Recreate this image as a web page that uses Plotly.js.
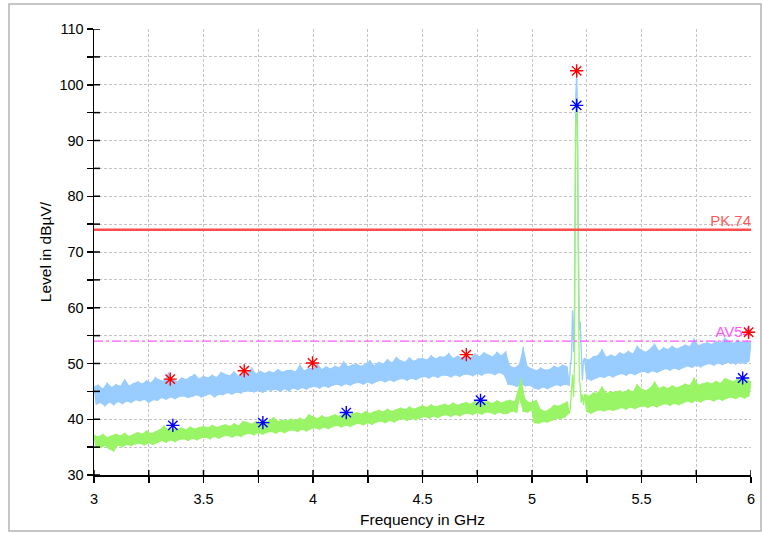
<!DOCTYPE html>
<html>
<head>
<meta charset="utf-8">
<script src="https://cdn.plot.ly/plotly-3.0.1.min.js"></script>
<style>html,body{margin:0;padding:0;background:#fff;}#chart{width:762px;height:534px;}</style>
</head>
<body>
<div id="chart"></div>
<script>
// ---- data ----
const lowStartGHz = 3.00;   // first block of samples, 0.01 GHz spacing
const highStartGHz = 5.24;  // block after the carrier, 0.01 GHz spacing
const sampleStepGHz = 0.01;

const peakTraceLow = [
45.9,42.6,46.2,42.9,45.5,42.3,46.6,43.0,45.8,42.5,
46.3,43.1,46.0,42.7,47.2,43.2,46.1,42.9,46.5,43.4,
46.8,43.2,46.4,43.5,47.0,42.9,46.6,43.4,47.6,43.3,
47.1,43.8,46.9,43.5,48.4,43.9,47.2,43.6,46.8,44.0,
47.5,44.1,47.2,43.8,47.7,44.0,48.1,44.3,47.3,43.9,
47.8,44.2,47.5,44.5,48.0,43.9,47.6,44.4,48.5,44.3,
48.1,44.7,47.9,44.4,48.6,44.8,47.8,44.6,48.2,45.0,
48.4,45.0,49.3,44.8,48.2,45.1,48.7,44.7,48.3,45.2,
48.7,45.1,48.4,45.3,49.0,44.9,48.5,45.4,48.8,45.0,
48.9,45.5,48.6,45.2,49.8,45.6,48.8,45.3,49.2,45.7,
49.2,45.8,50.1,45.5,49.0,45.9,49.5,45.6,49.1,46.0,
49.6,46.2,49.3,45.9,50.4,46.3,49.5,46.0,49.8,46.4,
49.9,46.5,49.6,46.2,50.0,46.6,50.6,46.3,49.7,46.7,
50.3,46.9,50.0,46.6,50.8,47.0,50.2,46.7,51.2,47.1,
50.6,47.2,50.3,46.9,51.1,47.3,50.5,47.0,50.9,47.4,
51.0,47.6,50.7,47.3,51.5,47.7,50.9,47.4,51.3,47.8,
51.2,47.8,51.9,47.5,51.0,47.9,51.4,47.6,51.1,48.0,
51.4,48.0,51.1,47.7,51.8,48.1,51.3,47.8,52.0,48.2,
51.6,48.2,51.3,47.9,52.1,48.3,51.5,48.0,52.2,46.2,
49.6,46.1,49.3,45.8,49.8,46.2,53.0,45.9,49.5,46.0,
49.1,45.5,48.8,45.3,49.3,45.7,48.9,45.4,49.0,45.8,
49.6,46.1,49.3,45.9,49.8,46.2,49.5,46.0
];
const avgTraceLow = [
37.2,35.0,36.9,34.8,37.4,35.2,36.8,34.6,37.1,34.2,
37.4,35.3,37.1,35.0,37.6,35.4,37.0,35.2,37.3,35.5,
37.7,35.6,37.4,35.3,38.0,35.7,37.5,35.4,37.8,35.8,
38.2,36.1,38.9,35.8,38.1,36.2,38.4,35.9,38.3,36.3,
38.5,36.4,38.2,36.1,38.7,36.5,38.3,36.2,38.6,36.6,
38.8,36.7,38.5,36.4,39.0,36.8,38.6,36.5,38.9,36.9,
39.1,37.0,38.8,36.7,39.3,37.1,38.9,36.8,39.7,37.2,
39.5,37.4,39.2,37.1,39.7,37.5,39.3,37.2,39.6,37.6,
39.8,37.7,40.4,37.4,39.7,37.8,39.9,37.5,39.8,37.9,
40.1,38.0,39.8,37.7,40.3,38.1,39.9,37.8,40.9,38.2,
40.5,38.4,40.2,38.1,40.7,38.5,40.3,38.2,40.6,38.6,
40.9,38.8,40.6,38.5,41.1,38.9,40.7,38.6,41.0,39.0,
41.3,39.2,41.0,38.9,41.5,39.3,41.1,39.0,41.4,39.4,
41.7,39.6,41.4,39.3,41.9,39.7,41.5,39.4,41.8,39.8,
42.1,40.0,41.8,39.7,42.3,40.1,41.9,39.8,42.2,40.2,
42.5,40.4,42.2,40.1,42.7,40.5,42.3,40.2,42.6,40.6,
42.8,40.7,42.5,40.4,43.0,40.8,42.6,40.5,42.9,40.9,
43.1,41.0,42.8,40.7,43.3,41.1,42.9,40.8,43.2,41.2,
43.2,41.1,42.9,40.8,43.4,41.2,43.0,40.9,43.3,41.0,
43.5,41.4,43.2,41.1,43.7,47.3,41.3,43.6,41.2,43.0,
41.6,39.3,43.5,39.2,41.8,39.5,41.5,39.4,41.9,39.7,
42.6,40.1,42.4,40.0,42.8,40.3,43.2,41.0
];

const carrierFreq = [5.175,5.18,5.185,5.19,5.194,5.197,5.2,5.204,5.207,5.21,5.213,5.216,5.22,5.225,5.23,5.235];
const carrierPeak = [49.5,51.0,59.5,52.0,60.5,85,98,101.8,97,80,62,56,57.5,50,47,50.5];
const carrierAvg  = [42.0,44.5,48.0,44.0,50.0,78,93,95.8,92,75,55,47,46,43,44.5,42.5];

const peakTraceHigh = [
51.0,47.2,50.7,46.9,51.3,47.3,
51.5,47.6,52.6,47.4,51.2,47.8,51.6,47.5,51.3,47.9,
52.0,48.1,51.7,47.8,52.3,48.2,51.8,47.9,53.2,48.3,
52.4,48.5,52.1,48.2,52.7,48.6,53.6,48.3,52.3,48.7,
52.9,49.0,52.6,48.7,53.2,49.1,52.7,48.8,53.0,49.2,
53.4,49.5,53.1,49.2,54.5,49.6,53.3,49.3,53.6,49.7,
53.8,49.9,53.5,49.6,54.1,50.0,53.7,49.7,54.6,50.1,
54.0,50.1,53.7,49.8,54.3,50.2,53.8,49.9,54.1,50.3,
53.8
];
const avgTraceHigh = [
44.5,41.3,44.2,41.0,44.8,41.4,
44.8,41.6,45.9,41.4,44.7,41.7,45.0,41.5,44.9,41.8,
45.2,42.0,44.9,41.7,45.4,42.1,45.0,41.8,46.3,42.2,
45.5,42.3,45.2,42.0,45.7,42.4,46.8,42.1,45.6,42.5,
45.9,42.7,45.6,42.4,46.1,42.8,45.7,42.5,46.0,42.9,
46.4,43.2,46.1,42.9,47.5,43.3,46.2,43.0,46.5,43.4,
46.7,43.5,46.4,43.2,46.9,43.6,46.5,43.3,47.4,43.7,
47.1,43.9,46.8,43.6,47.3,44.0,46.9,43.7,47.2,44.1,
46.8
];

const peakMarkFreq  = [3.348,3.686,3.998,4.700,5.204,5.989];
const peakMarkLevel = [47.2,48.7,50.1,51.6,102.5,55.6];
const avgMarkFreq   = [3.360,3.771,4.152,4.765,5.204,5.962];
const avgMarkLevel  = [38.9,39.4,41.2,43.4,96.3,47.4];

const limitPk = 74, limitAv = 54;
const limitPkLabel = "PK.74", limitAvLabel = "AV54";

const xTickVals = [3,3.25,3.5,3.75,4,4.25,4.5,4.75,5,5.25,5.5,5.75,6];
const xTickText = ["3","","3.5","","4","","4.5","","5","","5.5","","6"];
const yTickVals = [30,35,40,45,50,55,60,65,70,75,80,85,90,95,100,105,110];
const yTickText = ["30","","40","","50","","60","","70","","80","","90","","100","","110"];

// ---- build traces ----
function freqs(start, n) {
  const out = [];
  for (let i = 0; i < n; i++) out.push(Math.round((start + i * sampleStepGHz) * 1000) / 1000);
  return out;
}
const xLow = freqs(lowStartGHz, peakTraceLow.length);
const xHigh = freqs(highStartGHz, peakTraceHigh.length);
const xAll = xLow.concat(carrierFreq, xHigh);
const yPeak = peakTraceLow.concat(carrierPeak, peakTraceHigh);
const yAvg = avgTraceLow.concat(carrierAvg, avgTraceHigh);

// band polygon: local maxima forward, local minima backward, one polygon per block
function band(blocks) {
  const bx = [], by = [];
  blocks.forEach(([xs, ys], k) => {
    if (k > 0) { bx.push(null); by.push(null); }
    const ux = [], uy = [], lx = [], ly = [];
    ys.forEach((v, i) => {
      const prev = i > 0 ? ys[i - 1] : ys[i + 1];
      const next = i < ys.length - 1 ? ys[i + 1] : ys[i - 1];
      if (v >= prev && v >= next) { ux.push(xs[i]); uy.push(v); }
      else { lx.push(xs[i]); ly.push(v); }
    });
    bx.push(...ux, ...lx.reverse(), ux[0]);
    by.push(...uy, ...ly.reverse(), uy[0]);
  });
  return {x: bx, y: by};
}
const peakBand = band([[xLow, peakTraceLow], [xHigh, peakTraceHigh]]);
const avgBand = band([[xLow, avgTraceLow], [xHigh, avgTraceHigh]]);

const blue = '#99ccff', green = '#99f566';
const traces = [
  {x: peakBand.x, y: peakBand.y, type: 'scatter', mode: 'lines', fill: 'toself', fillcolor: blue,
   line: {width: 0, color: blue}, connectgaps: false, hoverinfo: 'skip'},
  {x: xAll, y: yPeak, type: 'scatter', mode: 'lines', line: {color: blue, width: 1.3}, hoverinfo: 'skip'},
  {x: avgBand.x, y: avgBand.y, type: 'scatter', mode: 'lines', fill: 'toself', fillcolor: green,
   line: {width: 0, color: green}, connectgaps: false, hoverinfo: 'skip'},
  {x: xAll, y: yAvg, type: 'scatter', mode: 'lines', line: {color: green, width: 1.3}, hoverinfo: 'skip'},
  {x: [3, 6], y: [limitPk, limitPk], type: 'scatter', mode: 'lines', line: {color: '#ff4d4d', width: 2.5}},
  {x: [3, 6], y: [limitAv, limitAv], type: 'scatter', mode: 'lines', line: {color: '#ff55ff', width: 1.2, dash: 'dashdot'}},
  {x: [6.0], y: [limitPk], type: 'scatter', mode: 'text', text: [limitPkLabel], textposition: 'top left', cliponaxis: false,
   textfont: {family: 'Liberation Sans, Arial, sans-serif', size: 15, color: '#ff5a5a'}},
  {x: [6.0], y: [limitAv], type: 'scatter', mode: 'text', text: [limitAvLabel], textposition: 'top left', cliponaxis: false,
   textfont: {family: 'Liberation Sans, Arial, sans-serif', size: 15, color: '#ff55ff'}},
  {x: peakMarkFreq, y: peakMarkLevel, type: 'scatter', mode: 'markers', cliponaxis: false,
   marker: {symbol: 'asterisk-open', size: 11, color: '#ff0000', line: {color: '#ff0000', width: 1.4}}},
  {x: avgMarkFreq, y: avgMarkLevel, type: 'scatter', mode: 'markers', cliponaxis: false,
   marker: {symbol: 'asterisk-open', size: 11, color: '#0000ff', line: {color: '#0000ff', width: 1.4}}}
];

// inner halves of the crossing tick marks
const shapes = [];
xTickVals.forEach(v => shapes.push({type: 'line', xref: 'x', yref: 'paper', ysizemode: 'pixel', yanchor: 0,
  x0: v, x1: v, y0: 0, y1: 5, line: {color: '#000', width: 1.5}}));
yTickVals.forEach(v => shapes.push({type: 'line', xref: 'paper', yref: 'y', xsizemode: 'pixel', xanchor: 0,
  x0: 0, x1: 6, y0: v, y1: v, line: {color: '#000', width: 1.5}}));
// outer frame of the figure
shapes.push({type: 'rect', xref: 'paper', yref: 'paper', x0: -0.1294, x1: 1.0152, y0: -0.1256, y1: 1.0561,
  line: {color: '#b4b4b4', width: 1.5}, layer: 'below'});

const fam = 'Liberation Sans, Arial, sans-serif';
const layout = {
  width: 762, height: 534,
  margin: {l: 94, r: 11, t: 29, b: 59},
  paper_bgcolor: '#fff', plot_bgcolor: '#fff',
  showlegend: false,
  font: {family: fam, size: 14, color: '#000'},
  xaxis: {
    range: [3, 6], tickvals: xTickVals, ticktext: xTickText,
    ticks: 'outside', ticklen: 6, tickwidth: 1.5, tickcolor: '#000',
    tickfont: {family: fam, size: 14.5, color: '#000'},
    showline: true, linecolor: '#000', linewidth: 1.5,
    showgrid: true, gridcolor: '#c4c4c4', gridwidth: 1, griddash: '3px,2px',
    zeroline: false, ticklabelstandoff: 4,
    title: {text: 'Frequency in GHz', font: {family: fam, size: 15.5, color: '#000'}, standoff: 8}
  },
  yaxis: {
    range: [30, 110], tickvals: yTickVals, ticktext: yTickText,
    ticks: 'outside', ticklen: 6, tickwidth: 1.5, tickcolor: '#000',
    tickfont: {family: fam, size: 14.5, color: '#000'},
    showline: true, linecolor: '#000', linewidth: 1.5,
    showgrid: true, gridcolor: '#c4c4c4', gridwidth: 1, griddash: '3px,2px',
    zeroline: false,
    title: {text: 'Level in dBµV/', font: {family: fam, size: 15.5, color: '#000'}, standoff: 4}
  },
  shapes: shapes
};

Plotly.newPlot('chart', traces, layout, {staticPlot: true, displayModeBar: false});
</script>
</body>
</html>
